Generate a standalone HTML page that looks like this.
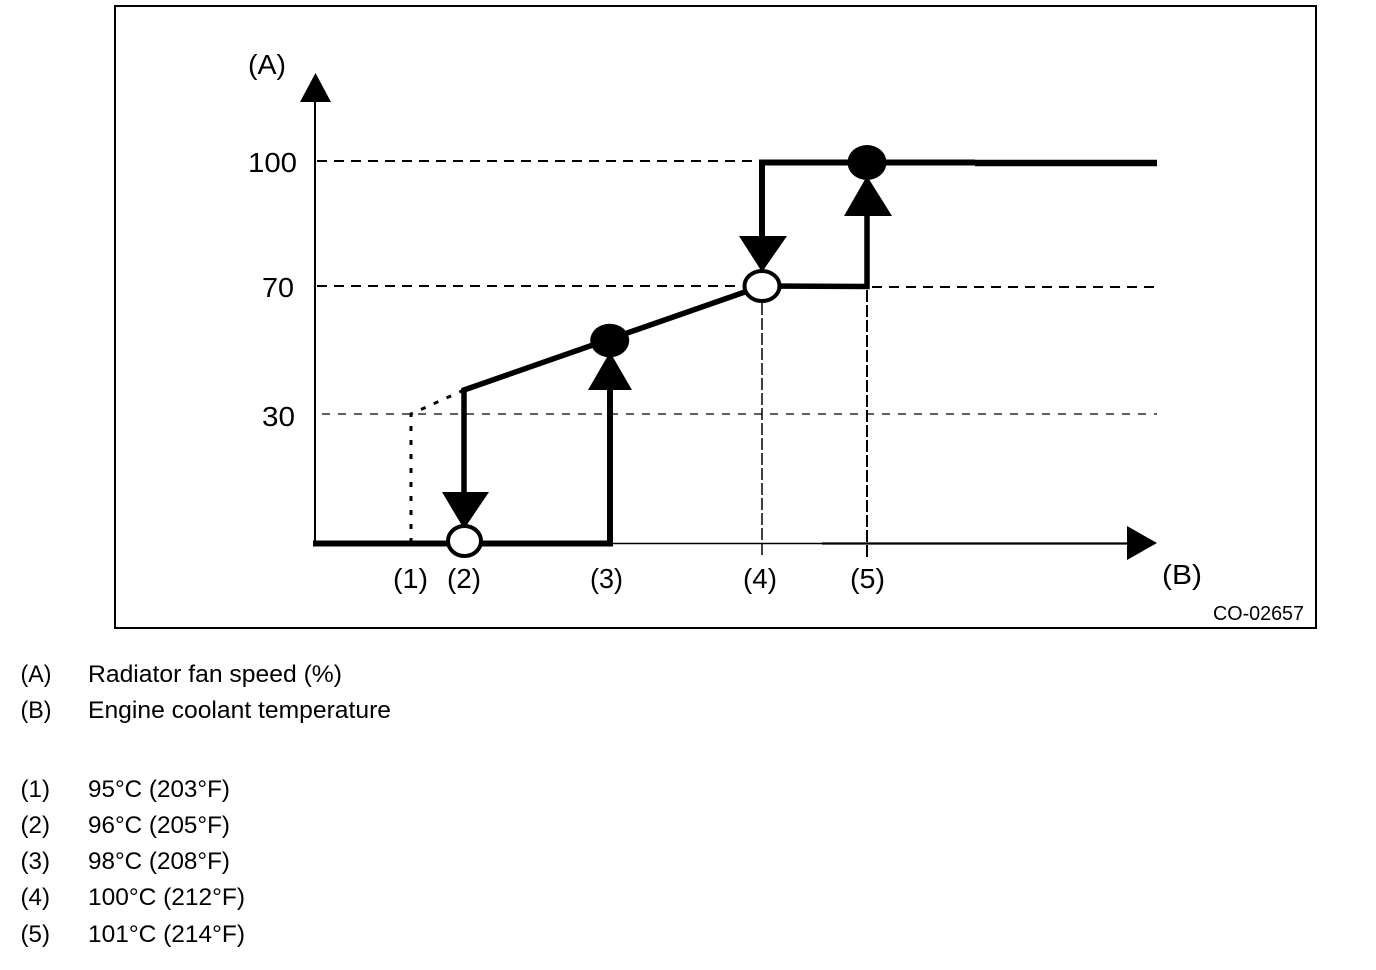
<!DOCTYPE html>
<html>
<head>
<meta charset="utf-8">
<style>
  html, body { margin: 0; padding: 0; background: #ffffff; }
  body { width: 1376px; height: 970px; overflow: hidden; }
  svg { display: block; }
  text { font-family: "Liberation Sans", "DejaVu Sans", sans-serif; fill: #000; }
</style>
</head>
<body>
<svg width="1376" height="970" viewBox="0 0 1376 970" xmlns="http://www.w3.org/2000/svg">
  <!-- frame -->
  <rect x="115" y="6" width="1201" height="622" fill="none" stroke="#000" stroke-width="2"/>

  <!-- gridlines -->
  <line x1="317" y1="161" x2="758" y2="161" stroke="#000" stroke-width="2" stroke-dasharray="10 7"/>
  <line x1="317" y1="286" x2="742" y2="286" stroke="#000" stroke-width="2" stroke-dasharray="10 7"/>
  <line x1="872" y1="287" x2="1157" y2="287" stroke="#000" stroke-width="2" stroke-dasharray="10 7"/>
  <line x1="322" y1="414" x2="1157" y2="414" stroke="#000" stroke-width="1.2" stroke-dasharray="8 8"/>

  <!-- thin vertical dashed guides -->
  <line x1="762" y1="303" x2="762" y2="558" stroke="#000" stroke-width="1.5" stroke-dasharray="12 3"/>
  <line x1="867" y1="290" x2="867" y2="558" stroke="#000" stroke-width="2" stroke-dasharray="12 3"/>

  <!-- Y axis -->
  <line x1="315" y1="100" x2="315" y2="543" stroke="#000" stroke-width="2"/>
  <polygon points="300,102 331,102 315.5,73" fill="#000"/>

  <!-- X axis -->
  <line x1="313" y1="543.5" x2="822" y2="543.5" stroke="#000" stroke-width="1.5"/>
  <line x1="822" y1="543.5" x2="1130" y2="543.5" stroke="#000" stroke-width="2.2"/>
  <polygon points="1127,526 1127,560 1157,543" fill="#000"/>

  <!-- dotted segment at (1) -->
  <polyline points="411,543 411,414 464,390" fill="none" stroke="#000" stroke-width="3" stroke-dasharray="5 9"/>

  <!-- main thick series -->
  <polyline points="313,543.5 610,543.5 610,388" fill="none" stroke="#000" stroke-width="6" stroke-linejoin="miter"/>
  <polyline points="464,494 464,390 762,286 867,286.5 867,214" fill="none" stroke="#000" stroke-width="5.5" stroke-linejoin="miter"/>
  <polyline points="762,238 762,162.5 975,162.5" fill="none" stroke="#000" stroke-width="6" stroke-linejoin="miter"/>
  <line x1="975" y1="163" x2="1157" y2="163" stroke="#000" stroke-width="6.5"/>

  <!-- arrows -->
  <polygon points="442,492 489,492 464,529" fill="#000"/>
  <polygon points="588,390 632,390 610,352" fill="#000"/>
  <polygon points="739,236 787,236 762,272" fill="#000"/>
  <polygon points="844,216 892,216 867,176" fill="#000"/>

  <!-- markers -->
  <ellipse cx="464.5" cy="541" rx="16.5" ry="15" fill="#fff" stroke="#000" stroke-width="4"/>
  <ellipse cx="609.7" cy="340.5" rx="19.5" ry="16.8" fill="#000"/>
  <ellipse cx="762" cy="286" rx="17.5" ry="15" fill="#fff" stroke="#000" stroke-width="4"/>
  <ellipse cx="867" cy="162.5" rx="19.5" ry="17.5" fill="#000"/>

  <!-- chart labels -->
  <text x="248" y="74" font-size="28" textLength="38" lengthAdjust="spacingAndGlyphs">(A)</text>
  <text x="248" y="172" font-size="28" textLength="49" lengthAdjust="spacingAndGlyphs">100</text>
  <text x="262" y="297" font-size="28" textLength="32" lengthAdjust="spacingAndGlyphs">70</text>
  <text x="262" y="426" font-size="28" textLength="33" lengthAdjust="spacingAndGlyphs">30</text>
  <text x="393" y="588" font-size="28" textLength="35" lengthAdjust="spacingAndGlyphs">(1)</text>
  <text x="447" y="588" font-size="28" textLength="34" lengthAdjust="spacingAndGlyphs">(2)</text>
  <text x="590" y="588" font-size="28" textLength="33" lengthAdjust="spacingAndGlyphs">(3)</text>
  <text x="743" y="588" font-size="28" textLength="34" lengthAdjust="spacingAndGlyphs">(4)</text>
  <text x="850" y="588" font-size="28" textLength="35" lengthAdjust="spacingAndGlyphs">(5)</text>
  <text x="1162" y="584" font-size="28" textLength="40" lengthAdjust="spacingAndGlyphs">(B)</text>
  <text x="1213" y="620" font-size="20" textLength="91" lengthAdjust="spacingAndGlyphs">CO-02657</text>

  <!-- legend -->
  <text x="20.5" y="682" font-size="24.5" textLength="31" lengthAdjust="spacingAndGlyphs">(A)</text>
  <text x="88" y="682" font-size="24.5" textLength="254" lengthAdjust="spacingAndGlyphs">Radiator fan speed (%)</text>
  <text x="20.5" y="718" font-size="24.5" textLength="31" lengthAdjust="spacingAndGlyphs">(B)</text>
  <text x="88" y="718" font-size="24.5" textLength="303" lengthAdjust="spacingAndGlyphs">Engine coolant temperature</text>

  <text x="20.5" y="797" font-size="24.5" textLength="29.5" lengthAdjust="spacingAndGlyphs">(1)</text>
  <text x="88" y="797" font-size="24.5" textLength="142" lengthAdjust="spacingAndGlyphs">95°C (203°F)</text>
  <text x="20.5" y="833" font-size="24.5" textLength="29.5" lengthAdjust="spacingAndGlyphs">(2)</text>
  <text x="88" y="833" font-size="24.5" textLength="142" lengthAdjust="spacingAndGlyphs">96°C (205°F)</text>
  <text x="20.5" y="869" font-size="24.5" textLength="29.5" lengthAdjust="spacingAndGlyphs">(3)</text>
  <text x="88" y="869" font-size="24.5" textLength="142" lengthAdjust="spacingAndGlyphs">98°C (208°F)</text>
  <text x="20.5" y="905" font-size="24.5" textLength="29.5" lengthAdjust="spacingAndGlyphs">(4)</text>
  <text x="88" y="905" font-size="24.5" textLength="157" lengthAdjust="spacingAndGlyphs">100°C (212°F)</text>
  <text x="20.5" y="942" font-size="24.5" textLength="29.5" lengthAdjust="spacingAndGlyphs">(5)</text>
  <text x="88" y="942" font-size="24.5" textLength="157" lengthAdjust="spacingAndGlyphs">101°C (214°F)</text>
</svg>
</body>
</html>
